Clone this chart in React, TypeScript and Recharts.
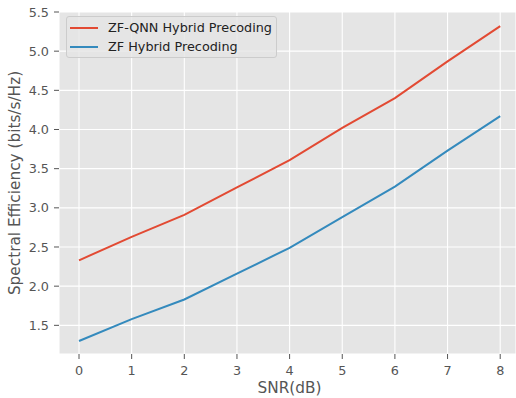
import { LineChart, Line, XAxis, YAxis, CartesianGrid, Legend } from "recharts";

const snr = [0, 1, 2, 3, 4, 5, 6, 7, 8];
const qnnSe = [2.33, 2.63, 2.91, 3.26, 3.61, 4.02, 4.4, 4.87, 5.32];
const zfSe = [1.3, 1.58, 1.83, 2.16, 2.49, 2.88, 3.27, 3.73, 4.17];
const xTicks = [0, 1, 2, 3, 4, 5, 6, 7, 8];
const yTicks = [1.5, 2.0, 2.5, 3.0, 3.5, 4.0, 4.5, 5.0, 5.5];

const data = snr.map((s, i) => ({ snr: s, qnn: qnnSe[i], zf: zfSe[i] }));

const FONT = "'DejaVu Sans', sans-serif";
const RED = "#E24A33";
const BLUE = "#348ABD";

function LegendBox() {
  const items = [
    { label: "ZF-QNN Hybrid Precoding", color: RED },
    { label: "ZF Hybrid Precoding", color: BLUE },
  ];
  return (
    <div
      style={{
        width: 211,
        height: 42,
        boxSizing: "border-box",
        background: "rgba(229,229,229,0.8)",
        border: "1px solid #cccccc",
        borderRadius: 3,
        padding: "1px 0 0 3px",
        fontFamily: FONT,
        fontSize: 12.8,
        color: "#222",
        whiteSpace: "nowrap",
      }}
    >
      {items.map((it) => (
        <div key={it.label} style={{ display: "flex", alignItems: "center", height: 19 }}>
          <span style={{ display: "inline-block", width: 28, height: 2, background: it.color, marginRight: 10 }} />
          <span>{it.label}</span>
        </div>
      ))}
    </div>
  );
}

export default function App() {
  return (
    <div style={{ position: "absolute", left: 0, top: 0, width: 516, height: 398, background: "#fff" }}>
      <LineChart width={516} height={398} data={data} margin={{ top: 12, right: 0, bottom: 0, left: 0 }}>
        <CartesianGrid stroke="#ffffff" strokeWidth={1.1} fill="#E5E5E5" fillOpacity={1} />
        <XAxis
          dataKey="snr"
          type="number"
          domain={[-0.38, 8.3]}
          ticks={xTicks}
          allowDataOverflow
          height={44}
          axisLine={false}
          tickSize={5}
          tickMargin={7}
          tickLine={{ stroke: "#555555", strokeWidth: 1 }}
          tick={{ fill: "#555555", fontSize: 12.8, fontFamily: FONT }}
        />
        <YAxis
          type="number"
          domain={[1.134, 5.5]}
          ticks={yTicks}
          allowDataOverflow
          width={59}
          axisLine={false}
          tickSize={5}
          tickMargin={5}
          tickLine={{ stroke: "#555555", strokeWidth: 1 }}
          tickFormatter={(v: number) => v.toFixed(1)}
          tick={{ fill: "#555555", fontSize: 12.8, fontFamily: FONT }}
        />
        <Legend
          layout="horizontal"
          verticalAlign="middle"
          align="center"
          content={() => <LegendBox />}
          wrapperStyle={{ position: "absolute", left: 66, top: 16, width: 211, height: 42 }}
        />
        <Line type="linear" dataKey="qnn" stroke={RED} strokeWidth={2} dot={false} isAnimationActive={false} />
        <Line type="linear" dataKey="zf" stroke={BLUE} strokeWidth={2} dot={false} isAnimationActive={false} />
        <text x={289.5} y={393} textAnchor="middle" fill="#555555" fontSize={15.3} fontFamily={FONT}>
          SNR(dB)
        </text>
        <text
          x={19.5}
          y={183}
          textAnchor="middle"
          fill="#555555"
          fontSize={15.3}
          fontFamily={FONT}
          transform="rotate(-90, 19.5, 183)"
        >
          Spectral Efficiency (bits/s/Hz)
        </text>
      </LineChart>
    </div>
  );
}
